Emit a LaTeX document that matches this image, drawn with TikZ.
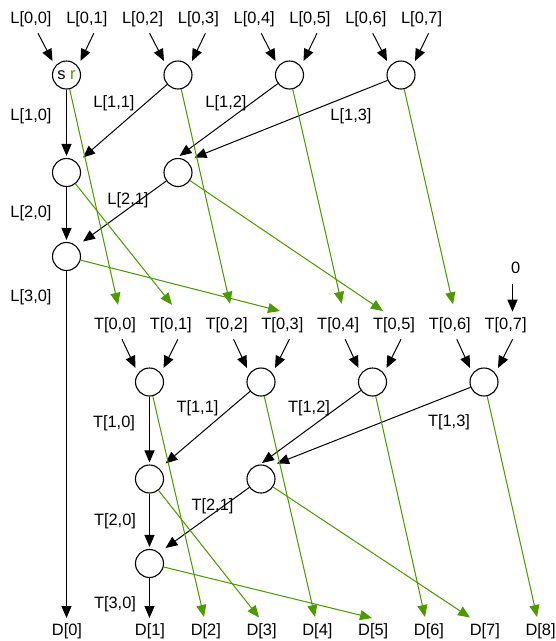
\documentclass[tikz,border=0pt]{standalone}
\usepackage{fontspec}
\setmainfont{Liberation Sans}
\usetikzlibrary{arrows.meta}
\definecolor{grn}{RGB}{77,153,0}
\begin{document}
\begin{tikzpicture}[x=1pt,y=-1pt,
  lbl/.style={font=\fontsize{16.4}{19}\selectfont, inner sep=0pt, anchor=base},
  gate/.style={circle, draw, line width=1.1pt, minimum size=28pt, inner sep=0pt, fill=white, font=\fontsize{16.4}{19}\selectfont},
  blk/.style={line width=1pt, -{Triangle[length=12pt,width=10pt]}},
  gr/.style={draw=grn, line width=1pt, -{Triangle[length=12pt,width=10pt]}, fill=grn},
]
\useasboundingbox (0,0) rectangle (556,641);
% row labels
\foreach \k in {0,...,7} \node[lbl] (L0\k) at ({31+55.8*\k},23.3) {L[0,\k]};
\foreach \k in {0,...,7} \node[lbl] (T0\k) at ({115+55.8*\k},329.3) {T[0,\k]};
\node[lbl] (D0) at (67,635) {D[0]};
\foreach \k in {1,...,8} \node[lbl] (D\k) at ({150+55.8*(\k-1)},635) {D[\k]};
\node[lbl] (zero) at (515.7,273.3) {0};
% edge labels
\node[lbl] (L10) at (31,120) {L[1,0]};
\node[lbl] (L11) at (114,107.3) {L[1,1]};
\node[lbl] (L12) at (226,107.3) {L[1,2]};
\node[lbl] (L13) at (351,120) {L[1,3]};
\node[lbl] (L20) at (31,217.7) {L[2,0]};
\node[lbl] (L21) at (128,204) {L[2,1]};
\node[lbl] (L30) at (31,301.7) {L[3,0]};
\node[lbl] (T10) at (114,427.7) {T[1,0]};
\node[lbl] (T11) at (197.5,412.7) {T[1,1]};
\node[lbl] (T12) at (309,412.7) {T[1,2]};
\node[lbl] (T13) at (449,426.7) {T[1,3]};
\node[lbl] (T20) at (115,525) {T[2,0]};
\node[lbl] (T21) at (212.5,510) {T[2,1]};
\node[lbl] (T30) at (115,608) {T[3,0]};
% circles
\node[gate] (a00) at (66.5,75) {s {\color{grn}r}};
\node[gate] (a01) at (178,75) {};
\node[gate] (a02) at (289.5,75) {};
\node[gate] (a03) at (401,75) {};
\node[gate] (a10) at (66.5,172.5) {};
\node[gate] (a11) at (178,172.5) {};
\node[gate] (a20) at (66.5,256.5) {};
\node[gate] (b00) at (149.5,382) {};
\node[gate] (b01) at (261,382) {};
\node[gate] (b02) at (372.5,382) {};
\node[gate] (b03) at (484,382) {};
\node[gate] (b10) at (149.5,479) {};
\node[gate] (b11) at (261,479) {};
\node[gate] (b20) at (149.5,563.5) {};
% inputs
\foreach \j/\e/\o in {0/0/1,1/2/3,2/4/5,3/6/7} {
  \draw[blk] ([shift={(7,10)}]L0\e.base) -- ([shift={(-14,-14)}]a0\j.center);
  \draw[blk] ([shift={(7,10)}]L0\o.base) -- ([shift={(14,-14)}]a0\j.center);
  \draw[blk] ([shift={(7,10)}]T0\e.base) -- ([shift={(-14,-14)}]b0\j.center);
  \draw[blk] ([shift={(7,10)}]T0\o.base) -- ([shift={(14,-14)}]b0\j.center);
}
% L stage black
\draw[blk, shorten >=2pt] (a00) -- (a10);
\draw[blk] (a01) -- ([shift={(16.5,-15)}]a10.center);
\draw[blk] (a02) -- ([shift={(1.5,-16.5)}]a11.center);
\draw[blk] (a03) -- ([shift={(16.5,-15)}]a11.center);
\draw[blk, shorten >=2pt] (a10) -- (a20);
\draw[blk] (a11) -- ([shift={(16.5,-15)}]a20.center);
\draw[blk] (a20) -- ([shift={(-0.5,-17)}]D0.base);
% L stage green
\draw[gr] (a00) -- ([shift={(3,-24.5)}]T00.base);
\draw[gr] (a01) -- ([shift={(3.4,-25.5)}]T02.base);
\draw[gr] (a02) -- ([shift={(3.5,-25.5)}]T04.base);
\draw[gr] (a03) -- ([shift={(3.2,-25)}]T06.base);
\draw[gr] (a10) -- ([shift={(1.2,-24.5)}]T01.base);
\draw[gr] (a11) -- ([shift={(-11,-18.3)}]T05.base);
\draw[gr] (a20) -- ([shift={(-2.4,-18.3)}]T03.base);
\draw[blk] ([shift={(-3.2,11)}]zero.base) -- ([shift={(6.9,-17.6)}]T07.base);
% T stage black
\draw[blk, shorten >=2pt] (b00) -- (b10);
\draw[blk] (b01) -- ([shift={(16,-15.5)}]b10.center);
\draw[blk] (b02) -- ([shift={(1,-16)}]b11.center);
\draw[blk] (b03) -- ([shift={(16,-15.5)}]b11.center);
\draw[blk, shorten >=2pt] (b10) -- (b20);
\draw[blk] (b11) -- ([shift={(16,-15.5)}]b20.center);
\draw[blk] (b20) -- ([shift={(-0.5,-17)}]D1.base);
% T stage green
\draw[gr] (b00) -- ([shift={(-1.8,-18)}]D2.base);
\draw[gr] (b01) -- ([shift={(-2.4,-18)}]D4.base);
\draw[gr] (b02) -- ([shift={(-4,-18)}]D6.base);
\draw[gr] (b03) -- ([shift={(-3.6,-18)}]D8.base);
\draw[gr] (b10) -- ([shift={(-2.6,-17.5)}]D3.base);
\draw[gr] (b11) -- ([shift={(-14.8,-17.5)}]D7.base);
\draw[gr] (b20) -- ([shift={(-1.2,-17)}]D5.base);
\end{tikzpicture}
\end{document}
